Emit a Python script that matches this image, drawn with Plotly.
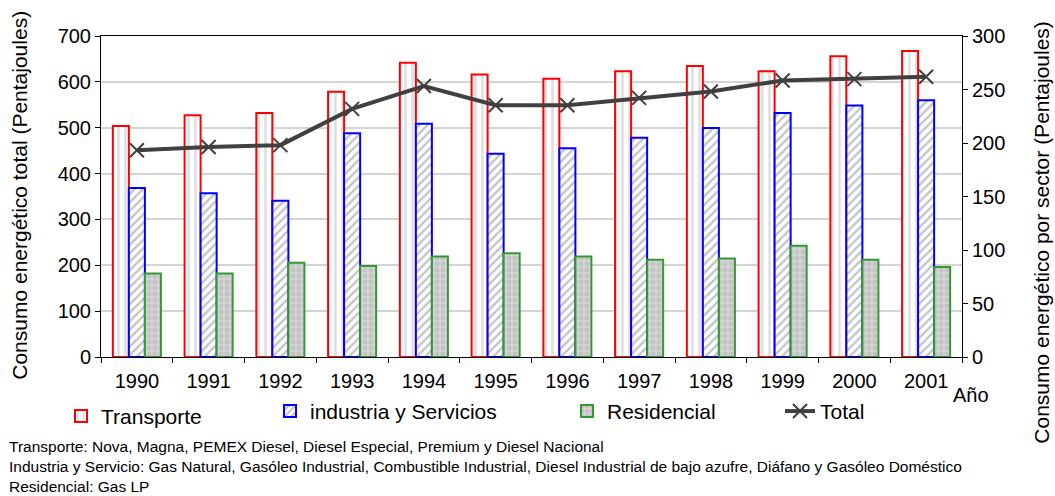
import plotly.graph_objects as go

years = ["1990", "1991", "1992", "1993", "1994", "1995", "1996", "1997", "1998", "1999", "2000", "2001"]
transporte = [216, 226, 228, 248, 275, 264, 260, 267, 272, 267, 281, 286]
industria = [158, 153, 146, 209, 218, 190, 195, 205, 214, 228, 235, 240]
residencial = [78, 78, 88, 85, 94, 97, 94, 91, 92, 104, 91, 84]
total = [451, 458, 462, 541, 591, 549, 549, 565, 579, 603, 606, 611]

FONT = "Liberation Sans, Arial, sans-serif"

# plot-area geometry (pixels) used to convert to paper coordinates
L, R, T, B = 101, 962, 36, 357.5
W, H = R - L, B - T


def px(x):
    return (x - L) / W


def py(y):
    return (B - y) / H


fig = go.Figure()

fig.add_trace(go.Bar(
    x=years, y=transporte, name="Transporte", yaxis="y", legend="legend",
    marker=dict(color="white", line=dict(color="#ff0000", width=2),
                pattern=dict(shape="|", fgcolor="#bdbdbd", bgcolor="white",
                             size=7, solidity=0.35, fillmode="overlay")),
))
fig.add_trace(go.Bar(
    x=years, y=industria, name="industria y Servicios", yaxis="y", legend="legend2",
    marker=dict(color="white", line=dict(color="#0000ff", width=2),
                pattern=dict(shape="/", fgcolor="#8a8a8a", bgcolor="white",
                             size=6, solidity=0.4, fillmode="overlay")),
))
fig.add_trace(go.Bar(
    x=years, y=residencial, name="Residencial", yaxis="y", legend="legend3",
    marker=dict(color="#c4c4c4", line=dict(color="#339933", width=2),
                pattern=dict(shape="+", fgcolor="white", bgcolor="#c4c4c4",
                             size=6, solidity=0.25, fillmode="overlay")),
))
fig.add_trace(go.Scatter(
    x=years, y=total, name="Total", yaxis="y2", legend="legend4",
    mode="lines+markers",
    line=dict(color="#404040", width=4),
    marker=dict(symbol="x-thin", size=14, color="#404040",
                line=dict(color="#404040", width=2)),
))

tickfont = dict(family=FONT, size=20, color="black")
titlefont = dict(family=FONT, size=21, color="black")

legend_common = dict(orientation="h", yanchor="middle", xanchor="left",
                     font=dict(family=FONT, size=21, color="black"),
                     bgcolor="rgba(0,0,0,0)", borderwidth=0, visible=True)

fig.update_layout(
    width=1055, height=496,
    margin=dict(l=L, r=1055 - R, t=T, b=496 - B, pad=0),
    paper_bgcolor="white", plot_bgcolor="white",
    font=dict(family=FONT, color="black"),
    showlegend=True,
    barmode="group", bargap=0.33, bargroupgap=0,
    xaxis=dict(type="category", range=[-0.5, len(years) - 0.5], autorange=False,
               tickson="boundaries", ticks="outside", ticklen=5,
               tickcolor="black", showline=True, linecolor="black", linewidth=1,
               mirror=True, showgrid=False, tickfont=tickfont, ticklabelstandoff=6),
    yaxis=dict(side="right", range=[0, 300], dtick=50, ticks="outside", ticklen=5,
               tickcolor="black", showline=True, linecolor="black", linewidth=1,
               showgrid=False, zeroline=False, tickfont=tickfont, automargin=False),
    yaxis2=dict(side="left", overlaying="y", range=[0, 700], dtick=100, ticks="outside",
                ticklen=5, tickcolor="black", showline=True, linecolor="black",
                linewidth=1, showgrid=True, gridcolor="#d4d4d4", gridwidth=1.5,
                zeroline=False, tickfont=tickfont, automargin=False),
    legend=dict(x=px(61), y=py(417), **legend_common),
    legend2=dict(x=px(270), y=py(412), **legend_common),
    legend3=dict(x=px(567), y=py(412), **legend_common),
    legend4=dict(x=px(780), y=py(412), **legend_common),
)

# axis titles
fig.add_annotation(text="Consumo energético total (Pentajoules)", xref="paper", yref="paper",
                   x=px(20), y=py(196), xanchor="center", yanchor="middle",
                   textangle=-90, showarrow=False, font=titlefont)
fig.add_annotation(text="Consumo energético por sector (Pentajoules)", xref="paper", yref="paper",
                   x=px(1042), y=py(233), xanchor="center", yanchor="middle",
                   textangle=-90, showarrow=False, font=titlefont)

fig.add_annotation(text="Año", xref="paper", yref="paper", x=px(951), y=py(396),
                   xanchor="left", yanchor="middle", showarrow=False,
                   font=dict(family=FONT, size=20, color="black"))

notes = [
    "Transporte: Nova, Magna, PEMEX Diesel, Diesel Especial, Premium y Diesel Nacional",
    "Industria y Servicio: Gas Natural, Gasóleo Industrial, Combustible Industrial, Diesel Industrial de bajo azufre, Diáfano y Gasóleo Doméstico",
    "Residencial: Gas LP",
]
note_y = [447, 467, 487]
for t, yy in zip(notes, note_y):
    fig.add_annotation(text=t, xref="paper", yref="paper", x=px(7), y=py(yy),
                       xanchor="left", yanchor="middle", showarrow=False,
                       font=dict(family=FONT, size=15.5, color="black"))

fig.write_html("out.html", config={"displayModeBar": False},
               post_script="document.body.style.margin='0';document.body.style.overflow='hidden';")
